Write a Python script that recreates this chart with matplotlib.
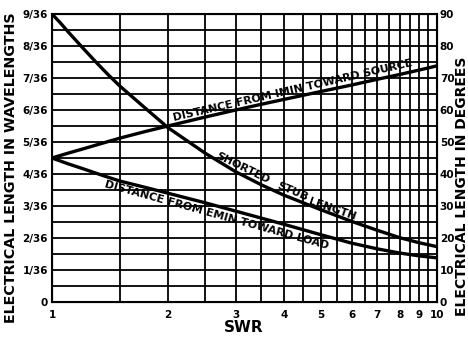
import matplotlib
matplotlib.use("Agg")
import matplotlib.pyplot as plt
import numpy as np

# ---- data ----
swr_source = [1.0, 1.1, 1.2, 1.35, 1.5, 1.75, 2.0, 2.5, 3.0, 3.5, 4.0, 5.0, 6.0, 7.0, 8.0, 9.0, 10.0]
deg_source = [45.0, 46.5, 47.8, 49.6, 51.2, 53.3, 55.0, 57.8, 60.0, 61.8, 63.3, 65.8, 67.8, 69.6, 71.1, 72.5, 73.8]

swr_load = [1.0, 1.1, 1.2, 1.35, 1.5, 1.75, 2.0, 2.5, 3.0, 3.5, 4.0, 5.0, 6.0, 7.0, 8.0, 9.0, 10.0]
deg_load = [45.0, 43.2, 41.7, 39.6, 37.8, 35.8, 34.0, 31.0, 28.4, 26.2, 24.3, 21.0, 18.4, 16.6, 15.3, 14.4, 13.8]

swr_stub = [1.0, 1.05, 1.1, 1.2, 1.3, 1.4, 1.5, 1.75, 2.0, 2.5, 3.0, 3.5, 4.0, 5.0, 6.0, 7.0, 8.0, 9.0, 10.0]
deg_stub = [90.0, 87.3, 84.5, 79.5, 75.0, 71.0, 67.5, 60.5, 54.5, 46.5, 40.7, 36.6, 33.4, 28.8, 25.2, 22.4, 20.1, 18.5, 17.3]

x_ticks = [1, 2, 3, 4, 5, 6, 7, 8, 9, 10]
x_ticklabels = ["1", "2", "3", "4", "5", "6", "7", "8", "9", "10"]
y_ticks = [0, 10, 20, 30, 40, 50, 60, 70, 80, 90]
y_left_labels = ["0", "1/36", "2/36", "3/36", "4/36", "5/36", "6/36", "7/36", "8/36", "9/36"]
y_right_labels = ["0", "10", "20", "30", "40", "50", "60", "70", "80", "90"]

plt.rcParams['font.family'] = ['DejaVu Sans']
plt.rcParams['font.weight'] = 'bold'

W, H = 468, 340
fig = plt.figure(figsize=(W / 100, H / 100), dpi=100)
L, R, T, B = 52, 437, 14, 302
ax = fig.add_axes([L / W, 1 - B / H, (R - L) / W, (B - T) / H])

ax.set_xscale('log')
ax.set_xlim(1, 10)
ax.set_ylim(0, 90)

# grid
ax.set_xticks(x_ticks)
ax.set_xticklabels(x_ticklabels, fontsize=7.5, fontweight='bold')
ax.set_xticks(list(np.arange(1.5, 10, 1.0)), minor=True)
ax.xaxis.set_minor_formatter(matplotlib.ticker.NullFormatter())
ax.set_yticks(y_ticks)
ax.set_yticklabels(y_left_labels, fontsize=7.5, fontweight='bold')
ax.set_yticks(list(np.arange(5, 90, 10)), minor=True)
ax.grid(True, which='both', color='black', lw=1.3)
ax.tick_params(which='both', length=0, pad=3)
ax.tick_params(axis='x', which='both', pad=6)
for s in ax.spines.values():
    s.set_linewidth(1.5)
    s.set_color('black')

ax2 = ax.twinx()
ax2.set_ylim(0, 90)
ax2.set_yticks(y_ticks)
ax2.set_yticklabels(y_right_labels, fontsize=7.5, fontweight='bold')
ax2.tick_params(length=0, pad=2)

# curves
for xs, ys in [(swr_source, deg_source), (swr_load, deg_load), (swr_stub, deg_stub)]:
    ax.plot(xs, ys, color='black', lw=2.4, solid_joinstyle='round', zorder=5)

# curve labels (pixel positions)
def ptext(px, py, s, rot, fs=7.9):
    fig.text(px / W, 1 - py / H, s, rotation=rot, ha='center', va='center',
             rotation_mode='anchor', fontsize=fs, fontweight='bold')

ptext(293, 90, "DISTANCE FROM IMIN TOWARD SOURCE", 13)
ptext(243, 168, "SHORTED", -26)
ptext(292, 192, "STUB", -23)
ptext(332, 209, "LENGTH", -19)
ptext(217, 215, "DISTANCE FROM EMIN TOWARD LOAD", -15.5)

fig.text(244 / W, 1 - 327 / H, "SWR", ha='center', va='center', fontsize=11, fontweight='bold')
fig.text(11 / W, 1 - 168 / H, "ELECTRICAL LENGTH IN WAVELENGTHS", rotation=90,
         ha='center', va='center', fontsize=10.3, fontweight='bold')
fig.text(462 / W, 1 - 186 / H, "ELECTRICAL LENGTH IN DEGREES", rotation=90,
         ha='center', va='center', fontsize=10, fontweight='bold')

fig.savefig("out.png", dpi=100, facecolor='white')
